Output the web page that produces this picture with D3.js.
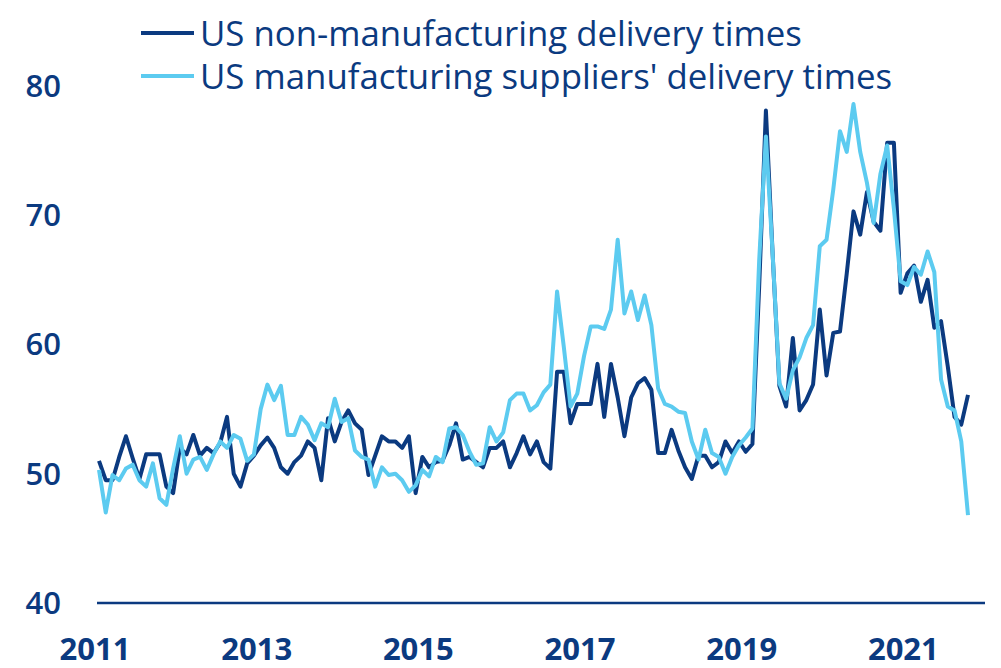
<!DOCTYPE html>
<html lang="en">
<head>
<meta charset="UTF-8">
<title>US delivery times</title>
<script src="https://d3js.org/d3.v7.min.js"></script>
<style>
    body, html {
        margin: 0px;
        background: #fff;
    }
    svg text {
        fill: #0b3a80;
    }
</style>
</head>
<body>
<div id="chart"></div>
<script>
    // monthly readings, Jan 2011 onwards
    const nonManufacturing = [
        51.0, 49.5, 49.5, 51.3, 52.9, 51.2, 49.6, 51.5, 51.5, 51.5, 49.0, 48.5,
        52.0, 51.5, 53.0, 51.4, 52.0, 51.6, 52.4, 54.4, 50.0, 49.0, 50.8, 51.4,
        52.2, 52.8, 52.0, 50.5, 50.0, 50.9, 51.4, 52.5, 52.0, 49.5, 54.3, 52.5,
        54.0, 54.9, 53.9, 53.4, 49.9, 51.4, 52.9, 52.5, 52.5, 52.0, 52.9, 48.5,
        51.3, 50.5, 50.9, 51.0, 52.2, 53.9, 51.1, 51.3, 50.9, 50.5, 52.0, 52.0,
        52.5, 50.5, 51.6, 52.9, 51.5, 52.5, 50.9, 50.4, 57.9, 57.9, 53.9, 55.4,
        55.4, 55.4, 58.5, 54.4, 58.5, 55.9, 52.9, 55.9, 57.0, 57.4, 56.5, 51.6,
        51.6, 53.4, 51.8, 50.5, 49.6, 51.4, 51.4, 50.5, 50.9, 52.5, 51.6, 52.5,
        51.7, 52.3, 64.5, 78.1, 67.0, 56.8, 55.2, 60.5, 54.9, 55.7, 56.9, 62.7,
        57.6, 60.9, 61.0, 65.5, 70.3, 68.5, 71.8, 69.5, 68.8, 75.6, 75.6, 64.0,
        65.5, 66.1, 63.3, 65.0, 61.3, 61.8, 58.3, 54.4, 53.8, 56.1
    ]
    const manufacturing = [
        50.3, 47.0, 49.9, 49.5, 50.4, 50.7, 49.5, 49.0, 50.8, 48.1, 47.6, 50.4,
        52.9, 50.0, 51.1, 51.3, 50.3, 51.5, 52.5, 52.0, 53.0, 52.7, 51.0, 51.5,
        55.0, 56.9, 55.7, 56.8, 53.0, 53.0, 54.4, 53.8, 52.6, 53.9, 53.6, 55.8,
        54.0, 54.3, 51.8, 51.3, 51.1, 49.0, 50.5, 49.9, 50.0, 49.5, 48.6, 49.1,
        50.3, 49.8, 51.3, 50.9, 53.5, 53.6, 53.0, 51.7, 50.7, 50.8, 53.6, 52.5,
        53.2, 55.7, 56.2, 56.2, 54.9, 55.3, 56.3, 56.9, 64.1, 59.8, 55.2, 56.2,
        59.1, 61.4, 61.4, 61.2, 62.7, 68.1, 62.4, 64.1, 61.9, 63.8, 61.5, 56.6,
        55.4, 55.2, 54.8, 54.7, 52.5, 51.1, 53.4, 51.6, 51.3, 50.0, 51.3, 52.2,
        52.8, 53.5, 66.5, 76.1, 67.0, 57.0, 55.8, 58.0, 59.0, 60.5, 61.5, 67.6,
        68.1, 72.0, 76.5, 74.9, 78.6, 74.9, 72.5, 69.4, 73.2, 75.4, 70.5, 64.9,
        64.6, 66.0, 65.4, 67.2, 65.6, 57.3, 55.2, 54.9, 52.5, 46.8
    ]
    const yearLabels = ["2011", "2013", "2015", "2017", "2019", "2021"]
    const yTicks = [40, 50, 60, 70, 80]
    const seriesNames = ["US non-manufacturing delivery times", "US manufacturing suppliers' delivery times"]

    const width = 1001, height = 668
    const navy = "#0b3a80", sky = "#5ccbf0"

    const svg = d3.select("#chart")
        .append("svg")
        .attr("width", width)
        .attr("height", height)

    const x = d3.scaleLinear().domain([0, nonManufacturing.length - 1]).range([99, 968])
    const y = d3.scaleLinear().domain([40, 80]).range([603, 86])

    // value axis: labels only
    svg.append("g")
        .selectAll("text")
        .data(yTicks)
        .enter()
        .append("text")
        .attr("x", 61)
        .attr("y", d => y(d))
        .attr("dy", "0.35em")
        .attr("text-anchor", "end")
        .style("font", "600 31px 'Open Sans', sans-serif")
        .text(d => d)

    // baseline
    svg.append("line")
        .attr("x1", 97).attr("x2", 985)
        .attr("y1", y(40)).attr("y2", y(40))
        .style("stroke", navy)
        .style("stroke-width", 2.5)

    // one label every 24 months
    svg.append("g")
        .selectAll("text")
        .data(yearLabels)
        .enter()
        .append("text")
        .attr("x", (d, i) => x(i * 24) - 4)
        .attr("y", 660)
        .attr("text-anchor", "middle")
        .style("font", "bold 31px 'Open Sans', sans-serif")
        .text(d => d)

    const line = d3.line()
        .x((d, i) => x(i))
        .y(d => y(d))
        .curve(d3.curveLinear)

    const series = [
        { name: seriesNames[0], values: nonManufacturing, color: navy },
        { name: seriesNames[1], values: manufacturing, color: sky }
    ]

    svg.append("g")
        .selectAll("path")
        .data(series)
        .enter()
        .append("path")
        .attr("d", d => line(d.values))
        .style("fill", "none")
        .style("stroke", d => d.color)
        .style("stroke-width", 4)
        .style("stroke-linejoin", "round")

    // legend
    const legend = svg.append("g")
        .selectAll("g")
        .data(series)
        .enter()
        .append("g")
        .attr("transform", (d, i) => `translate(141, ${33 + i * 43})`)

    legend.append("line")
        .attr("x1", 0).attr("x2", 53)
        .style("stroke", d => d.color)
        .style("stroke-width", 4)

    legend.append("text")
        .attr("x", 59)
        .attr("dy", "0.36em")
        .style("font", "500 34.8px 'Open Sans', sans-serif")
        .text(d => d.name)
</script>
</body>
</html>
